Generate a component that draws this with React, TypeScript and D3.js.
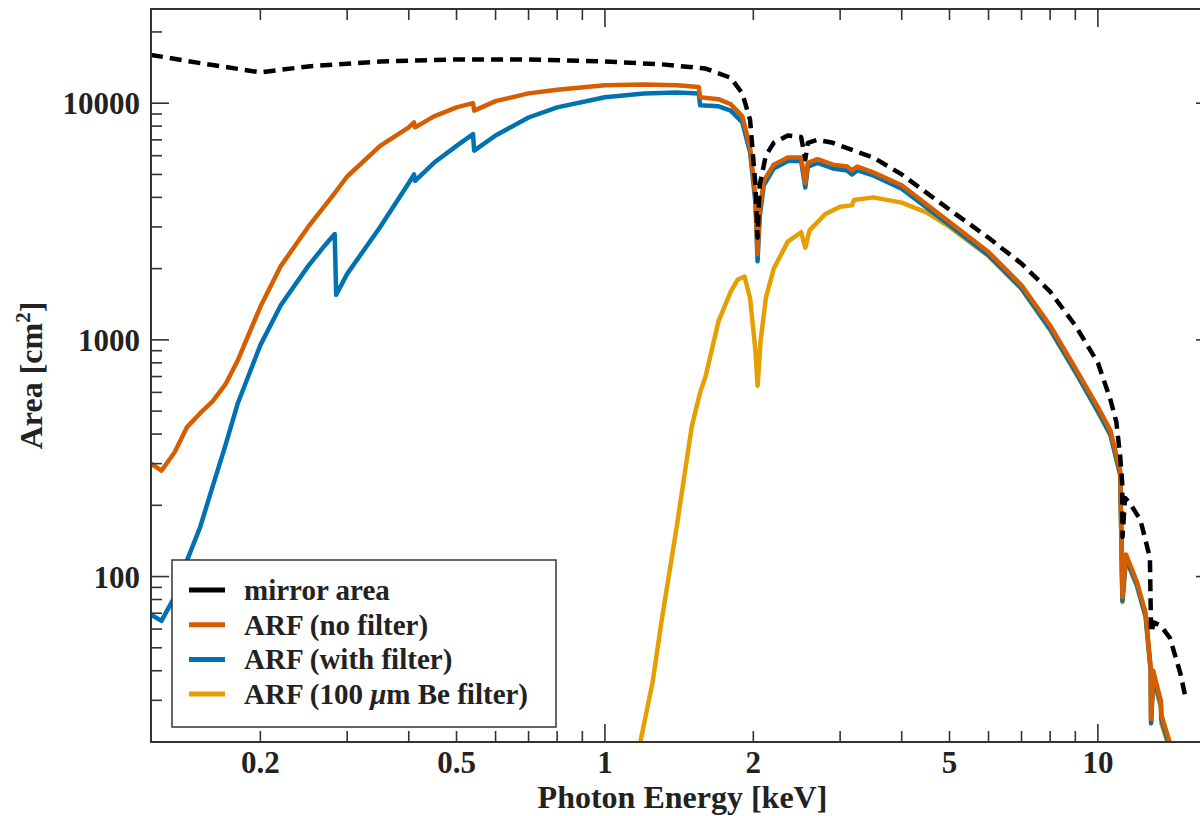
import React from "react";
import * as d3 from "d3";

// mirror effective area (keV, cm^2)
const mirrorE = [0.12, 0.15, 0.2, 0.25, 0.35, 0.5, 0.7, 1.0, 1.3, 1.6, 1.8, 1.9, 1.97, 2.02, 2.04, 2.06, 2.12, 2.2, 2.35, 2.5, 2.55, 2.58, 2.7, 2.9, 3.2, 3.5, 4.0, 5.0, 6.0, 7.0, 8.0, 9.0, 10.0, 10.6, 10.9, 11.1, 11.2, 11.22, 11.35, 11.6, 12.2, 12.75, 12.82, 13.0, 13.42, 14.0, 14.7, 15.1];
const mirrorA = [16000, 14800, 13500, 14300, 15000, 15300, 15300, 15000, 14600, 14000, 12800, 11000, 8500, 4500, 2700, 4500, 6000, 6800, 7300, 7200, 5800, 6800, 7000, 6800, 6300, 5900, 5000, 3550, 2700, 2100, 1600, 1150, 800, 560, 450, 320, 250, 147, 215, 205, 173, 120, 58, 64, 62, 55, 39, 30];

// ARF, no filter
const noFiltE = [0.12, 0.126, 0.134, 0.142, 0.151, 0.16, 0.17, 0.18, 0.2, 0.22, 0.25, 0.28, 0.3, 0.35, 0.4, 0.41, 0.412, 0.45, 0.5, 0.54, 0.543, 0.6, 0.7, 0.8, 1.0, 1.2, 1.4, 1.55, 1.56, 1.7, 1.8, 1.9, 1.97, 2.02, 2.04, 2.06, 2.1, 2.2, 2.35, 2.5, 2.55, 2.58, 2.7, 2.9, 3.1, 3.17, 3.25, 3.5, 4.0, 5.0, 6.0, 7.0, 8.0, 9.0, 10.0, 10.6, 11.1, 11.215, 11.4, 12.0, 12.5, 12.8, 12.82, 12.95, 13.3, 13.42, 13.45, 14.2];
const noFiltA = [300, 280, 335, 428, 490, 550, 650, 820, 1380, 2050, 3000, 4050, 4900, 6600, 7900, 8300, 7900, 8800, 9600, 10000, 9300, 10200, 11000, 11400, 11900, 12000, 11900, 11700, 10600, 10400, 9900, 8800, 6500, 4000, 2300, 3500, 4700, 5500, 5900, 5900, 4600, 5600, 5800, 5500, 5400, 5200, 5400, 5100, 4500, 3150, 2350, 1700, 1150, 760, 520, 415, 280, 82, 124, 95, 70, 41, 25, 40, 32, 30, 26, 18];

// ARF, with filter
const withFiltE = [0.12, 0.126, 0.134, 0.142, 0.151, 0.16, 0.17, 0.18, 0.2, 0.22, 0.25, 0.27, 0.283, 0.285, 0.3, 0.35, 0.4, 0.41, 0.412, 0.45, 0.5, 0.54, 0.543, 0.6, 0.7, 0.8, 1.0, 1.2, 1.4, 1.55, 1.56, 1.7, 1.8, 1.9, 1.97, 2.02, 2.04, 2.06, 2.1, 2.2, 2.35, 2.5, 2.55, 2.58, 2.7, 2.9, 3.1, 3.17, 3.25, 3.5, 4.0, 5.0, 6.0, 7.0, 8.0, 9.0, 10.0, 10.6, 11.1, 11.215, 11.4, 12.0, 12.5, 12.8, 12.82, 12.95, 13.3, 13.42, 13.45, 14.2];
const withFiltA = [69, 65, 82, 117, 162, 240, 360, 540, 950, 1400, 2050, 2500, 2800, 1550, 1900, 3000, 4600, 5000, 4700, 5600, 6600, 7400, 6300, 7300, 8700, 9600, 10600, 11000, 11100, 11000, 9800, 9700, 9300, 8300, 6200, 3800, 2150, 3300, 4500, 5300, 5700, 5700, 4400, 5400, 5600, 5300, 5200, 5000, 5200, 4950, 4350, 3060, 2280, 1650, 1110, 735, 500, 400, 270, 79, 120, 92, 68, 40, 24, 38, 31, 29, 25, 17];

// ARF, 100 um Be filter
const beFiltE = [1.18, 1.25, 1.3, 1.4, 1.5, 1.56, 1.6, 1.7, 1.8, 1.86, 1.92, 1.97, 2.02, 2.04, 2.07, 2.12, 2.2, 2.35, 2.5, 2.55, 2.6, 2.8, 3.0, 3.17, 3.2, 3.5, 4.0, 4.5, 5.0, 6.0, 7.0, 8.0, 9.0, 10.0, 10.6, 11.1, 11.215, 11.4, 12.0, 12.5, 12.8, 12.82, 12.95, 13.3, 13.42, 13.45, 14.2];
const beFiltA = [20, 36, 63, 165, 430, 600, 700, 1200, 1600, 1800, 1850, 1500, 900, 640, 1000, 1500, 2000, 2600, 2850, 2450, 2900, 3400, 3650, 3700, 3900, 4000, 3800, 3450, 3000, 2260, 1640, 1100, 730, 495, 395, 268, 78, 118, 91, 67, 39, 24, 37, 30, 28, 24, 17];

const xTickLabels = [0.2, 0.5, 1, 2, 5, 10];
const yTickLabels = [100, 1000, 10000];

const legendNames = ["mirror area", "ARF (no filter)", "ARF (with filter)", "ARF (100 μm Be filter)"];
const colors = ["#000000", "#D55E00", "#0072B2", "#E69F00"];

const W = 1200;
const H = 816;
const left = 151;
const right = 1214;
const top = 9;
const bottom = 742;
const font = "'Liberation Serif', 'Times New Roman', serif";
const axisColor = "#333333";

export default function App() {
  const x = d3.scaleLog().domain([0.12, 17.2]).range([left, right]);
  const y = d3.scaleLog().domain([20, 25000]).range([bottom, top]);

  const line = d3
    .line<[number, number]>()
    .x((d) => x(d[0]))
    .y((d) => y(Math.max(d[1], 1)));

  const pts = (e: number[], a: number[]) => e.map((v, i) => [v, a[i]] as [number, number]);

  const series = [
    { name: legendNames[3], d: pts(beFiltE, beFiltA), color: colors[3], dash: undefined },
    { name: legendNames[2], d: pts(withFiltE, withFiltA), color: colors[2], dash: undefined },
    { name: legendNames[1], d: pts(noFiltE, noFiltA), color: colors[1], dash: undefined },
    { name: legendNames[0], d: pts(mirrorE, mirrorA), color: colors[0], dash: "12 7" },
  ];

  const xTicks = x.ticks().filter((t) => t >= 0.12 && t <= 17.2);
  const yTicks = y.ticks().filter((t) => t >= 20 && t <= 25000);
  const isMajor = (t: number) => Math.abs(Math.log10(t) - Math.round(Math.log10(t))) < 1e-6;

  return (
    <svg width={W} height={H} style={{ position: "absolute", left: 0, top: 0, background: "#fff" }}>
      <defs>
        <clipPath id="plot">
          <rect x={left} y={top} width={right - left} height={bottom - top} />
        </clipPath>
      </defs>
      <rect width={W} height={H} fill="#fff" />

      <g clipPath="url(#plot)">
        {series.map((s) => (
          <path
            key={s.name}
            d={line(s.d) || ""}
            fill="none"
            stroke={s.color}
            strokeWidth={4.5}
            strokeDasharray={s.dash}
            strokeLinejoin="round"
          />
        ))}
      </g>

      {/* frame */}
      <rect x={left} y={top} width={right - left} height={bottom - top} fill="none" stroke={axisColor} strokeWidth={2} />

      {/* x ticks */}
      {xTicks.map((t) => {
        const len = isMajor(t) ? 18 : 11;
        return (
          <g key={"x" + t} stroke={axisColor} strokeWidth={1.6}>
            <line x1={x(t)} x2={x(t)} y1={bottom} y2={bottom - len} />
            <line x1={x(t)} x2={x(t)} y1={top} y2={top + len} />
          </g>
        );
      })}
      {xTickLabels.map((t) => (
        <text key={"xl" + t} x={x(t)} y={773} textAnchor="middle" fontFamily={font} fontWeight="bold" fontSize={31} fill="#222">
          {t}
        </text>
      ))}

      {/* y ticks */}
      {yTicks.map((t) => {
        const len = isMajor(t) ? 18 : 11;
        return (
          <g key={"y" + t} stroke={axisColor} strokeWidth={1.6}>
            <line x1={left} x2={left + len} y1={y(t)} y2={y(t)} />
            <line x1={right} x2={right - len} y1={y(t)} y2={y(t)} />
          </g>
        );
      })}
      {yTickLabels.map((t) => (
        <text key={"yl" + t} x={140} y={y(t) + 11} textAnchor="end" fontFamily={font} fontWeight="bold" fontSize={31} fill="#222">
          {t}
        </text>
      ))}

      {/* axis titles */}
      <text x={(left + right) / 2} y={808} textAnchor="middle" fontFamily={font} fontWeight="bold" fontSize={32} fill="#222">
        Photon Energy [keV]
      </text>
      <text
        transform={`translate(42, ${(top + bottom) / 2}) rotate(-90)`}
        textAnchor="middle"
        fontFamily={font}
        fontWeight="bold"
        fontSize={32}
        fill="#222"
      >
        Area [cm<tspan fontSize={21} dy={-12}>2</tspan>
        <tspan dy={12}>]</tspan>
      </text>

      {/* legend */}
      <g>
        <rect x={172} y={560} width={384} height={167} fill="#fff" stroke={axisColor} strokeWidth={1.5} />
        {legendNames.map((n, i) => {
          const ly = 590 + i * 34.7;
          return (
            <g key={n}>
              <line x1={189} x2={225} y1={ly} y2={ly} stroke={colors[i]} strokeWidth={5} />
              <text x={244} y={ly + 10} fontFamily={font} fontWeight="bold" fontSize={29} fill="#222">
                {i === 3 ? (
                  <>
                    ARF (100 <tspan fontStyle="italic">μ</tspan>m Be filter)
                  </>
                ) : (
                  n
                )}
              </text>
            </g>
          );
        })}
      </g>
    </svg>
  );
}
